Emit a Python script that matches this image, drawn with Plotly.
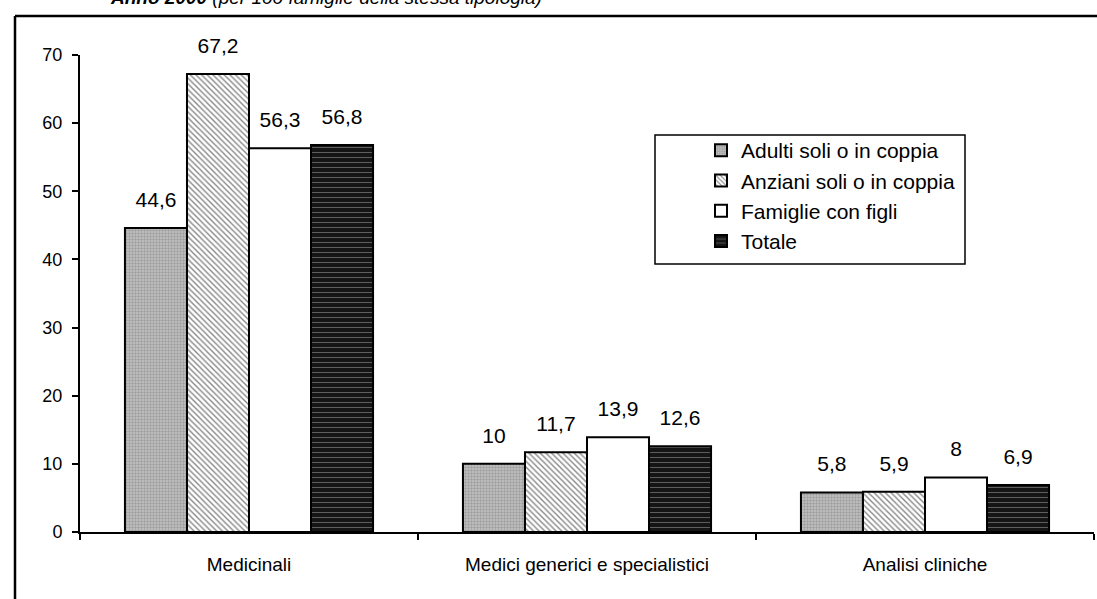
import plotly.graph_objects as go

categories = ["Medicinali", "Medici generici e specialistici", "Analisi cliniche"]
series_names = ["Adulti soli o in coppia", "Anziani soli o in coppia", "Famiglie con figli", "Totale"]
adulti = [44.6, 10.0, 5.8]
anziani = [67.2, 11.7, 5.9]
famiglie = [56.3, 13.9, 8.0]
totale = [56.8, 12.6, 6.9]
y_ticks = [0, 10, 20, 30, 40, 50, 60, 70]
title_bold = "Anno 2000"
title_rest = " (per 100 famiglie della stessa tipologia)"

series_values = [adulti, anziani, famiglie, totale]

patterns = [
    dict(shape=".", bgcolor="#c4c4c4", fgcolor="#7a7a7a", size=3, solidity=0.5),
    dict(shape="\\", bgcolor="#ffffff", fgcolor="#111111", size=4, solidity=0.35),
    dict(shape="", bgcolor="#ffffff", fgcolor="#ffffff"),
    dict(shape="-", bgcolor="#151515", fgcolor="#d8d8d8", size=5, solidity=0.15),
]
colors = ["#c4c4c4", "#ffffff", "#ffffff", "#151515"]

FONT = "Liberation Sans, Arial, sans-serif"

def fmt(v):
    s = ("%.1f" % v)
    if s.endswith(".0"):
        s = s[:-2]
    return s.replace(".", ",")

W, H = 1097, 599
L, R, T, B = 80, 3, 55, 67
pw, ph = W - L - R, H - T - B

def px(x):
    return (x - L) / pw

def py(y):
    return (H - B - y) / ph

fig = go.Figure()
for i, (name, vals) in enumerate(zip(series_names, series_values)):
    fig.add_trace(go.Bar(
        name=name, x=categories, y=vals,
        marker=dict(color=colors[i], pattern=patterns[i],
                    line=dict(color="#000000", width=2)),
        legendgroup=name,
    ))
for i, (name, vals) in enumerate(zip(series_names, series_values)):
    fig.add_trace(go.Scatter(
        x=categories, y=vals, mode="markers+text",
        text=[fmt(v) for v in vals], textposition="top center",
        textfont=dict(family=FONT, size=21, color="#000000"),
        marker=dict(size=24, opacity=0),
        showlegend=False, hoverinfo="skip", cliponaxis=False,
    ))

shapes = [
    # outer frame (left and top edges)
    dict(type="line", xref="paper", yref="paper", x0=px(15), x1=px(15),
         y0=py(H + 5), y1=py(16), line=dict(color="#000", width=2.5)),
    dict(type="line", xref="paper", yref="paper", x0=px(15), x1=px(W + 5),
         y0=py(16), y1=py(16), line=dict(color="#000", width=2.5)),
    # legend box
    dict(type="rect", xref="paper", yref="paper", x0=px(655), x1=px(965),
         y0=py(264), y1=py(135), line=dict(color="#000", width=1.5),
         fillcolor="rgba(0,0,0,0)", layer="above"),
]

fig.update_layout(
    width=W, height=H,
    margin=dict(l=L, r=R, t=T, b=B, pad=0),
    paper_bgcolor="#ffffff", plot_bgcolor="#ffffff",
    font=dict(family=FONT, color="#000000"),
    barmode="group", bargap=0.266, bargroupgap=0,
    scattermode="group", scattergap=0.266,
    showlegend=True,
    legend=dict(x=px(701), y=py(130), xanchor="left", yanchor="top",
                bgcolor="rgba(0,0,0,0)", borderwidth=0,
                font=dict(family=FONT, size=21, color="#000"),
                traceorder="grouped", tracegroupgap=0, itemwidth=30),
    shapes=shapes,
    annotations=[dict(
        xref="paper", yref="paper", x=px(108), y=py(10),
        xanchor="left", yanchor="bottom", showarrow=False,
        text="<b><i>" + title_bold + "</i></b><i>" + title_rest + "</i>",
        font=dict(family=FONT, size=19, color="#000"),
    )],
    xaxis=dict(
        showline=True, linecolor="#000", linewidth=2,
        ticks="outside", tickson="boundaries", ticklen=6, tickwidth=1.5,
        tickcolor="#000", showgrid=False, zeroline=False,
        tickfont=dict(family=FONT, size=19, color="#000"),
        ticklabelstandoff=14,
    ),
    yaxis=dict(
        range=[0, 70], tickvals=y_ticks, showline=True, linecolor="#000",
        linewidth=2, ticks="outside", ticklen=6, tickwidth=1.5, tickcolor="#000",
        showgrid=False, zeroline=False,
        tickfont=dict(family=FONT, size=18, color="#000"),
        ticklabelstandoff=6,
    ),
)

fig.write_html("out.html", config={"displayModeBar": False},
               post_script="document.body.style.margin='0px';document.body.style.overflow='hidden';")
